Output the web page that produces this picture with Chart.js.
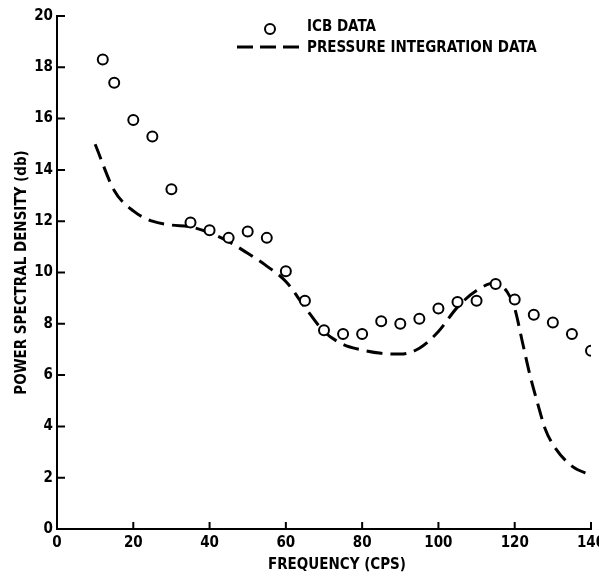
<!DOCTYPE html>
<html>
<head>
<meta charset="utf-8">
<script src="https://cdn.jsdelivr.net/npm/chart.js@4.4.1/dist/chart.umd.min.js"></script>
<style>
	html, body { margin: 0; padding: 0; background: #fff; }
	#wrap { width: 599px; height: 579px; }
</style>
</head>
<body>
<div id="wrap"><canvas id="chart1" width="599" height="579"></canvas></div>
<script>
//ICB data points (circles)
var icbFreq = [12, 15, 20, 25, 30, 35, 40, 45, 50, 55, 60, 65, 70, 75, 80, 85, 90, 95, 100, 105, 110, 115, 120, 125, 130, 135, 140];
var icbPsd = [18.3, 17.4, 15.95, 15.3, 13.25, 11.95, 11.65, 11.35, 11.6, 11.35, 10.05, 8.9, 7.75, 7.6, 7.6, 8.1, 8.0, 8.2, 8.6, 8.85, 8.9, 9.55, 8.95, 8.35, 8.05, 7.6, 6.95];

//pressure integration curve (dashed)
var pressFreq = [10, 15, 20, 25, 30, 35, 40, 45, 50, 55, 60, 65, 70, 75, 80, 85, 90, 95, 100, 105, 110, 115, 118, 120, 122, 124, 126, 128, 130, 135, 140];
var pressPsd = [15.0, 13.2, 12.4, 12.0, 11.85, 11.78, 11.55, 11.2, 10.75, 10.25, 9.65, 8.65, 7.7, 7.2, 6.98, 6.85, 6.82, 7.05, 7.7, 8.65, 9.3, 9.6, 9.25, 8.6, 7.3, 6.0, 4.9, 3.9, 3.3, 2.45, 2.1];

//axis ticks and labels
var xTicks = [0, 20, 40, 60, 80, 100, 120, 140];
var yTicks = [0, 2, 4, 6, 8, 10, 12, 14, 16, 18, 20];
var legendLabels = ["ICB DATA", "PRESSURE INTEGRATION DATA"];
var xTitle = "FREQUENCY (CPS)";
var yTitle = "POWER SPECTRAL DENSITY (db)";

var fontFamily = "'Liberation Sans Narrow', 'DejaVu Sans Condensed', 'Liberation Sans', sans-serif";

//turn two arrays into x/y points
function toPoints(xs, ys){
	var pts = [];
	for(var i = 0; i < xs.length; i++){
		pts.push({x: xs[i], y: ys[i]});
	}
	return pts;
}

//inward tick marks like the original plot
var innerTicks = {
	id: "innerTicks",
	afterDraw: function(chart){
		var ctx = chart.ctx;
		var xs = chart.scales.x;
		var ys = chart.scales.y;
		var ca = chart.chartArea;
		ctx.save();
		ctx.strokeStyle = "#000";
		ctx.lineWidth = 2;
		ctx.beginPath();
		for(var i = 0; i < xTicks.length; i++){
			var px = xs.getPixelForValue(xTicks[i]);
			ctx.moveTo(px, ca.bottom);
			ctx.lineTo(px, ca.bottom - 7);
		}
		for(var j = 0; j < yTicks.length; j++){
			var py = ys.getPixelForValue(yTicks[j]);
			ctx.moveTo(ca.left, py);
			ctx.lineTo(ca.left + 8, py);
		}
		ctx.stroke();
		ctx.restore();
	}
};

//legend in the upper part of the plot + x title
var plotLegend = {
	id: "plotLegend",
	afterDraw: function(chart){
		var ctx = chart.ctx;
		ctx.save();
		ctx.strokeStyle = "#000";
		ctx.fillStyle = "#fff";
		ctx.lineWidth = 2;
		ctx.beginPath();
		ctx.arc(270, 29, 5, 0, Math.PI * 2);
		ctx.fill();
		ctx.stroke();

		ctx.lineWidth = 3;
		ctx.setLineDash([16, 7]);
		ctx.beginPath();
		ctx.moveTo(237, 47);
		ctx.lineTo(300, 47);
		ctx.stroke();
		ctx.setLineDash([]);

		ctx.fillStyle = "#000";
		ctx.font = "bold 15px " + fontFamily;
		ctx.textBaseline = "middle";
		ctx.textAlign = "left";
		ctx.fillText(legendLabels[0], 307, 27);
		ctx.fillText(legendLabels[1], 307, 48);

		//x axis title, a little right of centre as in the original
		ctx.textAlign = "center";
		ctx.fillText(xTitle, 337, 565);
		ctx.restore();
	}
};

function createChart(){
	var ctx = document.getElementById("chart1");

	var chartdata = {
		datasets: [
			{
				label: legendLabels[1],
				data: toPoints(pressFreq, pressPsd),
				borderColor: "#000",
				borderWidth: 3,
				borderDash: [16, 8],
				pointRadius: 0,
				fill: false,
				cubicInterpolationMode: "monotone",
				order: 2
			},
			{
				label: legendLabels[0],
				data: toPoints(icbFreq, icbPsd),
				showLine: false,
				pointRadius: 5,
				pointBorderWidth: 2,
				pointBorderColor: "#000",
				pointBackgroundColor: "#fff",
				order: 1
			}
		]
	};

	var chart = new Chart(ctx, {
		type: "line",
		data: chartdata,
		options: {
			responsive: false,
			animation: false,
			devicePixelRatio: 1,
			layout: { padding: { left: 0, right: 8, top: 16, bottom: 0 } },
			plugins: {
				legend: { display: false },
				tooltip: { enabled: false }
			},
			scales: {
				x: {
					type: "linear",
					min: 0,
					max: 140,
					afterBuildTicks: function(s){
						s.ticks = xTicks.map(function(v){ return {value: v}; });
					},
					afterFit: function(s){
						s.height = 50;
						s.paddingLeft = 0;
						s.paddingRight = 0;
					},
					grid: { drawOnChartArea: false, drawTicks: false },
					border: { display: true, color: "#000", width: 2 },
					ticks: {
						color: "#000",
						padding: 5,
						maxRotation: 0,
						font: { family: fontFamily, size: 15, weight: "bold" }
					},
					title: { display: false }
				},
				y: {
					type: "linear",
					min: 0,
					max: 20,
					afterBuildTicks: function(s){
						s.ticks = yTicks.map(function(v){ return {value: v}; });
					},
					afterFit: function(s){
						s.width = 57;
					},
					grid: { drawOnChartArea: false, drawTicks: false },
					border: { display: true, color: "#000", width: 2 },
					ticks: {
						color: "#000",
						padding: 4,
						font: { family: fontFamily, size: 15, weight: "bold" }
					},
					title: {
						display: true,
						text: yTitle,
						color: "#000",
						padding: { top: 13, bottom: 0 },
						font: { family: fontFamily, size: 15, weight: "bold" }
					}
				}
			}
		},
		plugins: [innerTicks, plotLegend]
	});
}

createChart();
</script>
</body>
</html>
